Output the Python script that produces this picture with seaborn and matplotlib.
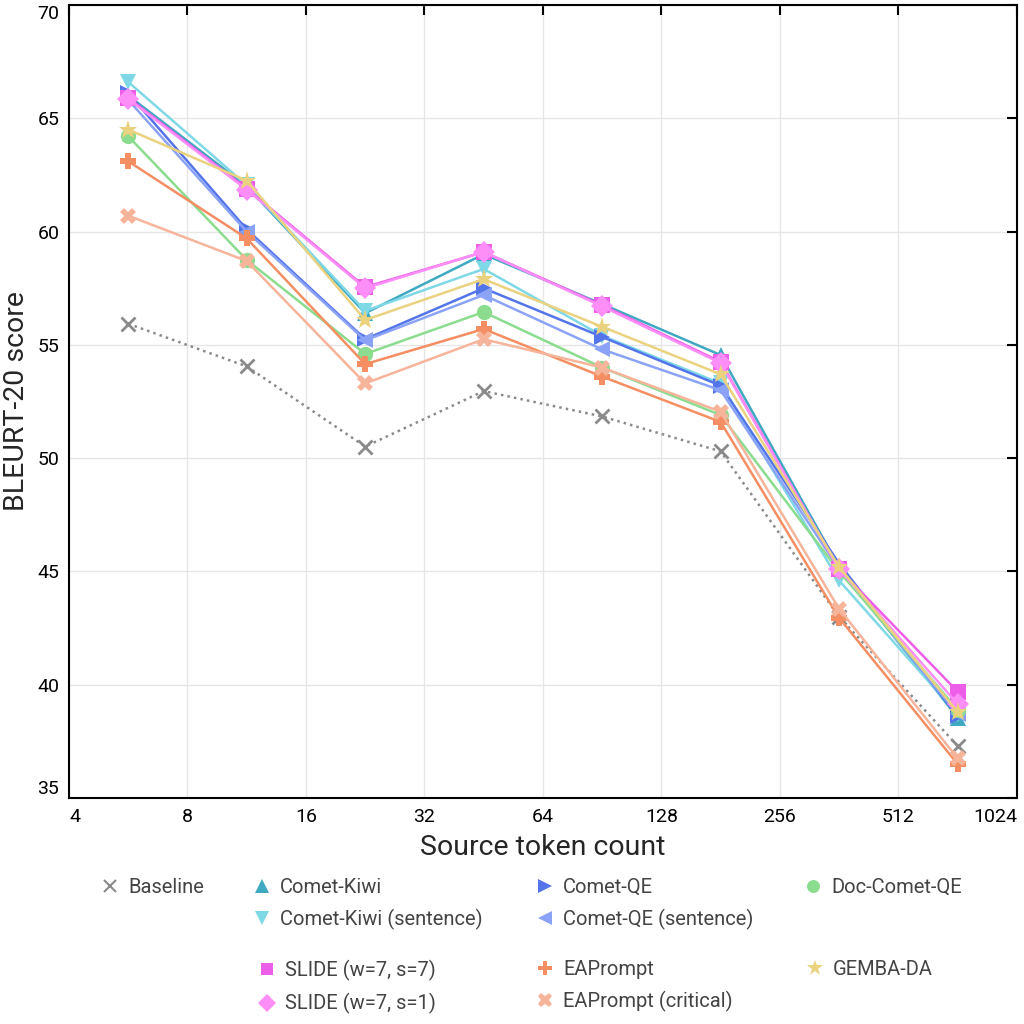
import matplotlib
matplotlib.use("Agg")
import matplotlib.pyplot as plt
from matplotlib.lines import Line2D
from matplotlib.ticker import NullLocator
import seaborn as sns

# token-count bins (geometric centres of the power-of-two buckets)
token_bins = [5.66, 11.31, 22.63, 45.25, 90.51, 181.0, 362.0, 724.1]

baseline = [55.93, 54.05, 50.51, 52.96, 51.84, 50.30, 43.0, 37.3]
comet_kiwi = [66.0, 62.0, 56.4, 59.0, 56.8, 54.55, 45.2, 38.55]
comet_kiwi_sent = [66.6, 62.05, 56.5, 58.35, 55.4, 53.3, 44.6, 38.7]
comet_qe = [66.1, 60.1, 55.25, 57.5, 55.35, 53.2, 45.35, 38.6]
comet_qe_sent = [65.8, 60.0, 55.2, 57.2, 54.8, 53.0, 45.1, 38.7]
doc_comet_qe = [64.2, 58.75, 54.6, 56.45, 54.0, 51.9, 45.0, 38.9]
slide_77 = [65.9, 61.9, 57.55, 59.1, 56.75, 54.25, 45.1, 39.7]
slide_71 = [65.85, 61.85, 57.5, 59.1, 56.7, 54.2, 45.1, 39.15]
eaprompt = [63.1, 59.7, 54.15, 55.7, 53.6, 51.6, 42.95, 36.5]
eaprompt_crit = [60.7, 58.7, 53.3, 55.25, 54.0, 52.05, 43.35, 36.75]
gemba_da = [64.5, 62.25, 56.1, 57.9, 55.8, 53.7, 45.2, 38.8]

x_ticks = [4, 8, 16, 32, 64, 128, 256, 512, 1024]
y_ticks = [35, 40, 45, 50, 55, 60, 65, 70]

# name, values, colour, marker, markersize, linestyle
series = [
    ("Baseline", baseline, "#8a8a8a", "x", 10, ":"),
    ("Comet-Kiwi", comet_kiwi, "#3fa9c2", "^", 12, "-"),
    ("Comet-Kiwi (sentence)", comet_kiwi_sent, "#7fd8e6", "v", 12, "-"),
    ("Comet-QE", comet_qe, "#5474ea", ">", 12, "-"),
    ("Comet-QE (sentence)", comet_qe_sent, "#8ba3f7", "<", 12, "-"),
    ("Doc-Comet-QE", doc_comet_qe, "#8bdc8e", "o", 11, "-"),
    ("SLIDE (w=7, s=7)", slide_77, "#ec5ee8", "s", 11, "-"),
    ("SLIDE (w=7, s=1)", slide_71, "#fd8ef8", "D", 11, "-"),
    ("EAPrompt", eaprompt, "#f58e62", "P", 12, "-"),
    ("EAPrompt (critical)", eaprompt_crit, "#f6b49b", "X", 12, "-"),
    ("GEMBA-DA", gemba_da, "#ead27f", "*", 14, "-"),
]

sns.set_style("white")
plt.rcParams['font.family'] = ['Roboto', 'DejaVu Sans']

fig = plt.figure(figsize=(10.24, 10.24), dpi=100)
ax = fig.add_axes([0.0674, 0.2207, 0.9256, 0.7744])

handles = {}
for name, vals, col, mk, ms, ls in series:
    sns.lineplot(x=token_bins, y=vals, ax=ax, color=col, marker=mk, markersize=ms,
                 linestyle=ls, linewidth=1.8, markeredgewidth=2 if mk == "x" else 0,
                 markeredgecolor=col)
    handles[name] = Line2D([], [], color=col, marker=mk, linestyle="none",
                           markersize=ms * 0.85, markeredgewidth=1.5 if mk == "x" else 0,
                           markeredgecolor=col)

ax.set_xscale("log", base=2)
ax.set_xlim(4, 1024)
ax.set_ylim(35, 70)
ax.set_xticks(x_ticks, labels=[str(t) for t in x_ticks])
ax.set_yticks(y_ticks, labels=[str(t) for t in y_ticks])
ax.xaxis.set_minor_locator(NullLocator())
ax.grid(True, color="#e6e6e6", linewidth=1)
ax.tick_params(direction="in", top=True, right=True, length=7, width=1.5,
               labelsize=14, pad=7, colors="black")
ax.get_xticklabels()[0].set_ha("left")
ax.get_xticklabels()[-1].set_ha("right")
ax.get_yticklabels()[0].set_va("bottom")
ax.get_yticklabels()[-1].set_va("top")
for s in ax.spines.values():
    s.set_linewidth(1.5)
    s.set_color("black")

ax.set_xlabel("Source token count", fontsize=20.5, labelpad=6)
ax.set_ylabel("BLEURT-20 score", fontsize=20.5, labelpad=5)

# legend laid out as two groups of columns below the plot
legend_cols = [
    (100, 889, ["Baseline"]),
    (252, 889, ["Comet-Kiwi", "Comet-Kiwi (sentence)"]),
    (535, 889, ["Comet-QE", "Comet-QE (sentence)"]),
    (803, 889, ["Doc-Comet-QE"]),
    (257, 971, ["SLIDE (w=7, s=7)", "SLIDE (w=7, s=1)"]),
    (535, 971, ["EAPrompt", "EAPrompt (critical)"]),
    (805, 971, ["GEMBA-DA"]),
]
for px, py, names in legend_cols:
    fig.legend([handles[n] for n in names], names, loc="upper left",
               bbox_to_anchor=(px / 1024, 1 - (py - 11) / 1024),
               frameon=False, fontsize=14.5, borderpad=0, borderaxespad=0,
               handlelength=1.0, handletextpad=0.4, labelspacing=0.6,
               labelcolor="#444444")

fig.savefig("out.png", dpi=100)
